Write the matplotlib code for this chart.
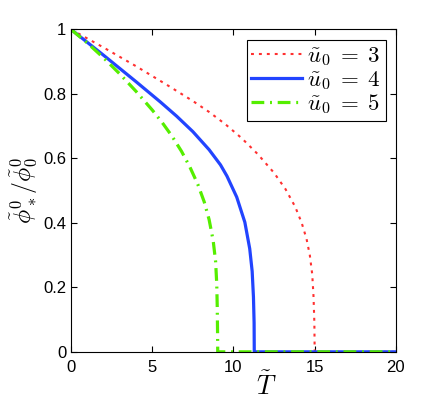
import numpy as np
import matplotlib.pyplot as plt

plt.rcParams['font.family'] = 'Liberation Sans'
plt.rcParams['mathtext.fontset'] = 'cm'

# u0 = 3
T3 = [0, 2.0, 4.0, 6.0, 7.5, 8.5, 9.5, 10.5, 11.5, 12.5, 13.2, 13.8, 14.2, 14.5, 14.7,
      14.85, 14.93, 14.98, 15.0, 20]
v3 = [1.0, 0.944, 0.886, 0.825, 0.778, 0.744, 0.706, 0.663, 0.613, 0.555, 0.505, 0.45, 0.4, 0.35, 0.3,
      0.24, 0.17, 0.09, 0.0, 0.0]
# u0 = 4
T4 = [0, 2.0, 4.0, 5.5, 6.5, 7.5, 8.5, 9.2, 9.6, 10.2, 10.7, 11.0, 11.15, 11.23, 11.27,
      11.28, 20]
v4 = [1.0, 0.92, 0.838, 0.775, 0.731, 0.683, 0.627, 0.58, 0.545, 0.48, 0.402, 0.32, 0.25, 0.17, 0.09,
      0.0, 0.0]
# u0 = 5
T5 = [0, 1.0, 2.0, 3.0, 4.0, 5.0, 5.6, 6.2, 6.8, 7.3, 7.8, 8.2, 8.5, 8.75, 8.9,
      8.97, 9.0, 9.02, 9.03, 20]
v5 = [1.0, 0.958, 0.912, 0.862, 0.808, 0.75, 0.712, 0.67, 0.622, 0.575, 0.52, 0.465, 0.41, 0.345, 0.28,
      0.21, 0.14, 0.06, 0.0, 0.0]

fig = plt.figure(figsize=(4.36, 3.98), dpi=100)
ax = fig.add_axes([0.163, 0.116, 0.745, 0.81])

ax.plot(T3, v3, color='#ff3030', lw=1.5, dashes=(1.4, 2.4), label=r'$\tilde{u}_0\;=\;3$')
ax.plot(T4, v4, color='#2244ff', lw=2.3, label=r'$\tilde{u}_0\;=\;4$')
ax.plot(T5, v5, color='#55ee00', lw=2.3, dashes=(4, 1.8, 0.6, 1.8), label=r'$\tilde{u}_0\;=\;5$')

ax.set_xlim(0, 20)
ax.set_ylim(0, 1)
ax.set_xticks([0, 5, 10, 15, 20])
ax.set_yticks([0, 0.2, 0.4, 0.6, 0.8, 1])
ax.set_yticklabels(['0', '0.2', '0.4', '0.6', '0.8', '1'])
ax.tick_params(direction='in', top=True, right=True, labelsize=12, length=4)
ax.tick_params(axis='x', pad=6)
for s in ax.spines.values():
    s.set_linewidth(0.8)

ax.set_xlabel(r'$\tilde{T}$', fontsize=19)
ax.xaxis.set_label_coords(0.6, -0.06)
ax.set_ylabel(r'$\tilde{\phi}^0_*/\tilde{\phi}^0_0$', fontsize=17, labelpad=2)

leg = ax.legend(loc='upper right', fontsize=16.5, fancybox=False, framealpha=1,
                edgecolor='black', handlelength=2.2, handletextpad=0.25,
                borderpad=0.2, labelspacing=0.0, borderaxespad=0.45)
leg.get_frame().set_linewidth(0.8)

fig.savefig('out.png', dpi=100)
